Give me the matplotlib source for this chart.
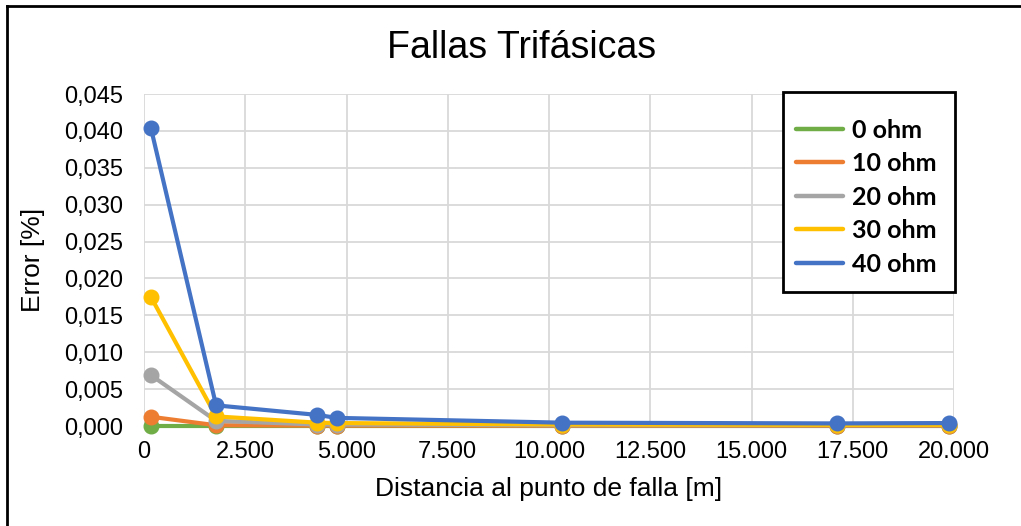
import matplotlib.pyplot as plt
from matplotlib.lines import Line2D
from matplotlib.patches import Rectangle
from matplotlib.ticker import FuncFormatter

# distancias [m] y errores [%] por resistencia de falla
distancia = [170, 1780, 4280, 4760, 10330, 17100, 19880]
err_0 = [0.0000, 0.0000, 0.0000, 0.0000, 0.0000, 0.0000, 0.0000]
err_10 = [0.00125, 0.0001, 0.00005, 0.00005, 0.00003, 0.00003, 0.00003]
err_20 = [0.0069, 0.0007, 0.0002, 0.0002, 0.0001, 0.0001, 0.0001]
err_30 = [0.0175, 0.0013, 0.00045, 0.0004, 0.0002, 0.00015, 0.00015]
err_40 = [0.0404, 0.0028, 0.0015, 0.0011, 0.00045, 0.00035, 0.0004]

series = [
    ("0 ohm", err_0, "#70AD47"),
    ("10 ohm", err_10, "#ED7D31"),
    ("20 ohm", err_20, "#A5A5A5"),
    ("30 ohm", err_30, "#FFC000"),
    ("40 ohm", err_40, "#4472C4"),
]

plt.rcParams['font.family'] = ['Liberation Sans', 'DejaVu Sans']

fig = plt.figure(figsize=(10.21, 5.26), dpi=100)
ax = fig.add_axes([144 / 1021, 1 - 426 / 526, (954 - 144) / 1021, (426 - 94) / 526])

for nombre, valores, color in series:
    ax.plot(distancia, valores, color=color, lw=3, marker='o', ms=10.5,
            label=nombre, solid_capstyle='round', zorder=3, clip_on=False)

ax.set_xlim(0, 20000)
ax.set_ylim(0, 0.045)
ax.set_xticks(range(0, 20001, 2500))
ax.set_yticks([i * 0.005 for i in range(10)])
ax.xaxis.set_major_formatter(FuncFormatter(lambda v, p: f"{int(v):,}".replace(",", ".")))
ax.yaxis.set_major_formatter(FuncFormatter(lambda v, p: f"{v:.3f}".replace(".", ",")))
ax.grid(True, color="#D9D9D9", lw=1.3)
ax.tick_params(length=0, labelsize=17)
ax.tick_params(axis='y', pad=15)
ax.tick_params(axis='x', pad=11)
for s in ax.spines.values():
    s.set_visible(False)

ax.set_xlabel("Distancia al punto de falla [m]", fontsize=19, labelpad=10)
ax.set_ylabel("Error [%]", fontsize=19, labelpad=14)
fig.text(522 / 1021, 1 - 48 / 526, "Fallas Trifásicas", fontsize=27,
         ha='center', va='center')

# recuadro de la leyenda
ax.add_patch(Rectangle((783 / 1021, 1 - 292 / 526), 172 / 1021, 200 / 526,
                       transform=fig.transFigure, facecolor='white',
                       edgecolor='black', lw=2, zorder=4, clip_on=False))

leg = ax.legend(loc='upper left', bbox_to_anchor=(783 / 1021, 1 - 106 / 526),
                bbox_transform=fig.transFigure, frameon=False,
                handlelength=1.9, handletextpad=0.35, labelspacing=0.42,
                borderpad=0, prop={'family': 'Lato', 'weight': 'bold', 'size': 18})
leg.set_zorder(5)
for h in leg.get_lines():
    h.set_marker('')
    h.set_linewidth(3.2)

# marco exterior del grafico (solo izquierda y arriba visibles)
y_top = 1 - 5.5 / 526
x_left = 7 / 1021
fig.lines.append(Line2D([x_left, x_left], [0, y_top], transform=fig.transFigure,
                        color='black', lw=2))
fig.lines.append(Line2D([x_left, 1], [y_top, y_top], transform=fig.transFigure,
                        color='black', lw=2))

fig.savefig("out.png", dpi=100)
